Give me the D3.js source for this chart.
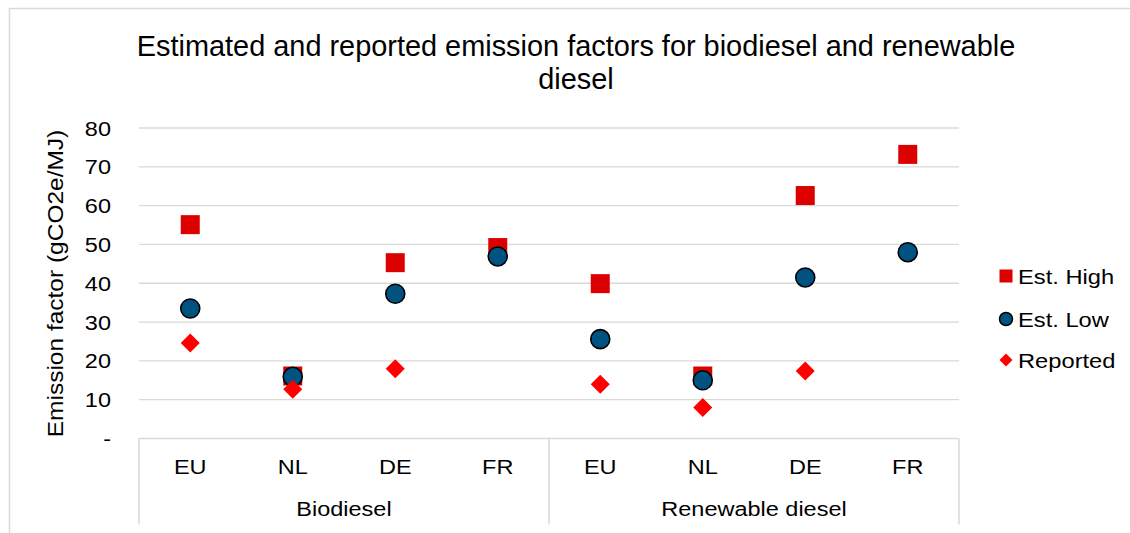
<!DOCTYPE html>
<html>
<head>
<meta charset="utf-8">
<script src="https://cdn.jsdelivr.net/npm/d3@7"></script>
<style>
  body { margin: 0; background: #fff; }
  svg text { font-family: "Liberation Sans", Arial, sans-serif; fill: #000; }
</style>
</head>
<body>
<div id="chart"></div>
<script>
// chart data
var groups = ["Biodiesel", "Renewable diesel"];
var countries = ["EU", "NL", "DE", "FR"];
var estHigh = [55.1, 16.1, 45.3, 49.2, 39.9, 16.1, 62.6, 73.2];
var estLow = [33.5, 15.9, 37.3, 46.9, 25.6, 15.0, 41.5, 48.0];
var reported = [24.6, 12.7, 18.0, null, 14.0, 8.0, 17.4, null];
var yTicks = [0, 10, 20, 30, 40, 50, 60, 70, 80];

var W = 1130, H = 533;
var margin = { top: 128, right: 171, bottom: 96, left: 139 };
var width = W - margin.left - margin.right;
var height = H - margin.top - margin.bottom;
var labelSize = 23.5, squash = 0.85; // axis text is a bit flattened in the original

var svg = d3.select("#chart").append("svg")
  .attr("width", W)
  .attr("height", H);

// text helper: places a slightly flattened label
function label(parent, x, y, txt, anchor, size, sy) {
  var t = parent.append("g")
    .attr("transform", "translate(" + x + "," + y + ") scale(1," + sy + ")")
    .append("text")
    .attr("text-anchor", anchor)
    .style("font-size", size + "px")
    .text(txt);
  return t;
}

// outer chart frame (right/bottom edges fall off the picture)
svg.append("rect")
  .attr("x", 9.5).attr("y", 8.5)
  .attr("width", W + 20).attr("height", H + 20)
  .attr("fill", "none").attr("stroke", "#d9d9d9").attr("stroke-width", 1.5);

// title
var title = svg.append("text")
  .attr("text-anchor", "middle")
  .style("font-size", "28.9px");
title.append("tspan").attr("x", 576).attr("y", 56)
  .text("Estimated and reported emission factors for biodiesel and renewable");
title.append("tspan").attr("x", 576).attr("y", 89).text("diesel");

var g = svg.append("g")
  .attr("transform", "translate(" + margin.left + "," + margin.top + ")");

// flat category list: one slot per group/country pair
var cats = [];
groups.forEach(function (grp) {
  countries.forEach(function (c) {
    cats.push(grp + "|" + c);
  });
});

var x = d3.scaleBand().domain(cats).range([0, width]);
var y = d3.scaleLinear().domain([0, 80]).range([height + 1.5, 0]);

// gridlines
g.append("g")
  .selectAll("line")
  .data(yTicks.slice(1))
  .enter().append("line")
  .attr("x1", 0).attr("x2", width)
  .attr("y1", function (d) { return y(d); })
  .attr("y2", function (d) { return y(d); })
  .attr("stroke", "#d9d9d9").attr("stroke-width", 1.3);

// y tick labels
var yLab = g.append("g");
yTicks.forEach(function (d) {
  label(yLab, -28, y(d) + 7.5, d === 0 ? "-" : String(d), "end", labelSize, squash);
});

// y axis title
svg.append("g")
  .attr("transform", "translate(63," + 283.5 + ") rotate(-90) scale(1,0.88)")
  .append("text")
  .attr("text-anchor", "middle")
  .style("font-size", "24.5px")
  .text("Emission factor (gCO2e/MJ)");

// multi-level category axis
var axisG = g.append("g").attr("transform", "translate(0," + y(0) + ")");
axisG.append("line")
  .attr("x1", 0).attr("x2", width).attr("y1", 0).attr("y2", 0)
  .attr("stroke", "#d9d9d9").attr("stroke-width", 1.5);

var groupWidth = x.bandwidth() * countries.length;
var groupEdges = d3.range(groups.length + 1).map(function (i) { return i * groupWidth; });
axisG.selectAll(".sep")
  .data(groupEdges)
  .enter().append("line")
  .attr("x1", function (d) { return d; })
  .attr("x2", function (d) { return d; })
  .attr("y1", 0).attr("y2", 86)
  .attr("stroke", "#d9d9d9").attr("stroke-width", 1.5);

cats.forEach(function (d) {
  label(axisG, x(d) + x.bandwidth() / 2, 35.5, d.split("|")[1], "middle", labelSize, squash);
});
groups.forEach(function (d, i) {
  label(axisG, i * groupWidth + groupWidth / 2, 77.5, d, "middle", labelSize, squash);
});

function cx(i) { return x(cats[i]) + x.bandwidth() / 2; }

// Est. High squares
g.selectAll(".high")
  .data(estHigh)
  .enter().append("path")
  .attr("d", d3.symbol().type(d3.symbolSquare).size(19 * 19))
  .attr("transform", function (d, i) { return "translate(" + cx(i) + "," + y(d) + ")"; })
  .attr("fill", "#dd0000");

// Est. Low circles
g.selectAll(".low")
  .data(estLow)
  .enter().append("circle")
  .attr("cx", function (d, i) { return cx(i); })
  .attr("cy", function (d) { return y(d); })
  .attr("r", 9.5)
  .attr("fill", "#005380")
  .attr("stroke", "#000").attr("stroke-width", 1.6);

// Reported diamonds
var diamond = "M0,-9.5L9.5,0L0,9.5L-9.5,0Z";
g.selectAll(".rep")
  .data(reported.map(function (v, i) { return { v: v, i: i }; })
    .filter(function (d) { return d.v !== null; }))
  .enter().append("path")
  .attr("d", diamond)
  .attr("transform", function (d) { return "translate(" + cx(d.i) + "," + y(d.v) + ")"; })
  .attr("fill", "#ff0000");

// legend
var legend = [
  { name: "Est. High", y: 276 },
  { name: "Est. Low", y: 319 },
  { name: "Reported", y: 360 }
];
var lg = svg.append("g");
lg.append("rect").attr("x", 999.5).attr("y", legend[0].y - 6.5)
  .attr("width", 13).attr("height", 13).attr("fill", "#dd0000");
lg.append("circle").attr("cx", 1006).attr("cy", legend[1].y).attr("r", 6.5)
  .attr("fill", "#005380").attr("stroke", "#000").attr("stroke-width", 1.5);
lg.append("path").attr("d", "M0,-6.5L6.5,0L0,6.5L-6.5,0Z")
  .attr("transform", "translate(1006," + legend[2].y + ")")
  .attr("fill", "#ff0000");
legend.forEach(function (d) {
  label(lg, 1018, d.y + 7.5, d.name, "start", 23.7, squash);
});
</script>
</body>
</html>
